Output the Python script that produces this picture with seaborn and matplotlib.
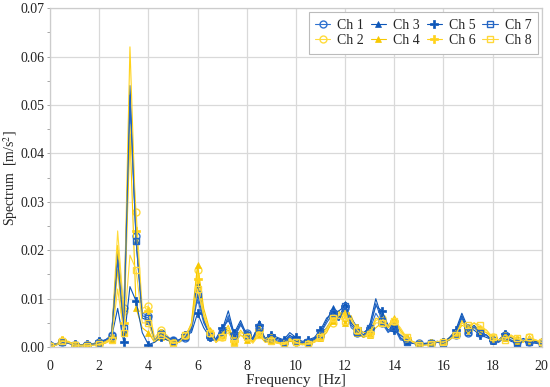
import matplotlib
matplotlib.use("Agg")
import matplotlib.pyplot as plt
import numpy as np
import seaborn as sns
from matplotlib.ticker import MultipleLocator, FormatStrFormatter

# frequency axis, 0.25 Hz steps
freq = np.arange(81) * 0.25

# spectra in units of 1e-3 m/s^2
ch1 = [0.4, 0.6, 1.0, 0.8, 0.5, 0.4, 0.5, 0.6, 1.0, 1.5, 2.5,
       19, 8, 50, 23, 7, 6.5, 1.5, 3.0, 2.0, 1.5,
       1.0, 1.8, 3.5, 10, 5, 2.5, 1.2, 3.0, 6.5, 2.0,
       4.5, 3.0, 1.5, 4.0, 1.5, 2.0, 1.2, 1.0, 2.0, 1.0,
       0.8, 1.0, 1.5, 2.5, 4.0, 6.0, 5.5, 8.0, 4.0, 3.0,
       2.0, 3.5, 7.0, 5.0, 3.0, 4.0, 1.5, 1.2, 1.0, 0.8,
       0.7, 0.8, 1.0, 0.8, 1.5, 2.5, 6.0, 3.0, 4.0, 3.0,
       2.5, 1.5, 1.2, 2.5, 1.5, 1.0, 1.5, 1.0, 1.0, 0.8]
ch2 = [0.2, 0.5, 1.3, 1.1, 0.4, 0.3, 0.4, 0.5, 0.7, 1.0, 1.8,
       24, 7.5, 46, 28, 8, 8.5, 2.0, 3.5, 2.5, 1.0,
       1.2, 2.5, 4.5, 16, 7, 3.0, 1.0, 2.0, 4.0, 1.5,
       3.0, 2.5, 1.0, 3.0, 2.0, 1.5, 1.0, 0.8, 1.5, 1.2,
       0.6, 0.8, 1.2, 2.0, 3.5, 5.0, 7.0, 6.0, 5.0, 3.5,
       2.5, 3.0, 5.5, 6.0, 4.0, 5.0, 3.0, 1.5, 1.2, 0.6,
       0.5, 0.7, 1.2, 1.0, 2.0, 3.0, 5.0, 4.0, 4.5, 3.5,
       3.0, 2.0, 1.5, 2.0, 2.5, 1.5, 1.2, 2.0, 1.5, 1.0]
ch3 = [0.3, 0.5, 1.1, 0.9, 0.4, 0.3, 0.4, 0.5, 0.8, 1.3, 2.2,
       20, 3.5, 54, 22, 6, 5.5, 1.2, 2.5, 2.0, 1.2,
       1.5, 2.0, 4.0, 13, 6, 2.0, 1.5, 3.5, 7.5, 2.5,
       5.0, 2.0, 1.8, 5.0, 1.2, 1.5, 1.8, 1.2, 2.5, 1.5,
       1.0, 1.2, 1.8, 3.0, 5.5, 8.0, 6.0, 9.0, 5.0, 3.5,
       2.5, 4.5, 10, 6.0, 3.5, 4.5, 2.0, 1.0, 0.8, 0.5,
       0.6, 0.7, 1.0, 0.9, 1.8, 3.0, 6.5, 3.5, 4.5, 3.0,
       2.5, 1.2, 1.0, 2.0, 1.2, 0.8, 1.2, 1.0, 0.8, 0.6]
ch4 = [0.2, 0.4, 1.0, 0.8, 0.3, 0.2, 0.3, 0.4, 0.5, 0.8, 1.5,
       16, 3.0, 44, 8, 4, 3.0, 1.0, 2.0, 1.5, 0.8,
       1.0, 2.0, 5.0, 17, 8, 3.5, 1.0, 2.5, 3.5, 1.0,
       2.5, 1.5, 1.2, 2.5, 1.0, 1.2, 0.8, 0.6, 1.2, 1.0,
       0.5, 0.6, 1.0, 1.8, 3.0, 5.5, 7.5, 5.0, 6.5, 3.0,
       2.0, 2.5, 4.0, 5.0, 4.5, 6.0, 3.5, 2.0, 1.0, 0.5,
       0.4, 0.6, 1.0, 0.8, 1.5, 2.5, 4.5, 4.0, 5.0, 4.0,
       3.5, 2.0, 1.5, 1.8, 2.0, 1.2, 1.0, 1.8, 1.2, 0.8]
ch5 = [0.5, 0.7, 1.2, 1.0, 0.6, 0.5, 0.6, 0.7, 1.2, 1.5, 2.0,
       8, 1.0, 12.5, 9.5, 3, 0.5, 1.0, 2.0, 1.5, 1.2,
       1.5, 2.5, 3.0, 7, 4, 2.0, 1.8, 4.0, 5.5, 3.0,
       5.5, 2.5, 2.0, 4.5, 1.8, 2.5, 2.0, 1.5, 3.0, 2.0,
       1.2, 1.5, 2.0, 3.5, 6.0, 7.0, 7.5, 8.5, 6.0, 4.0,
       3.0, 4.0, 8.5, 7.5, 4.5, 3.5, 2.5, 1.5, 0.8, 0.6,
       0.8, 0.9, 1.2, 1.0, 2.0, 3.5, 7.0, 4.0, 3.5, 2.5,
       2.0, 1.5, 1.5, 2.8, 2.0, 1.2, 1.8, 1.2, 1.2, 1.0]
ch6 = [0.3, 0.6, 1.4, 1.2, 0.5, 0.4, 0.5, 0.6, 0.8, 1.2, 2.0,
       21, 5.0, 62, 24, 7, 7.5, 1.5, 3.0, 2.0, 1.0,
       1.0, 2.2, 4.0, 14, 6, 3.0, 1.2, 2.5, 4.5, 1.2,
       3.5, 2.0, 1.2, 3.5, 1.5, 1.8, 1.0, 0.8, 1.8, 1.0,
       0.7, 0.9, 1.4, 2.2, 4.0, 6.0, 6.5, 7.0, 5.5, 4.0,
       3.0, 3.0, 6.0, 5.5, 4.0, 5.5, 3.5, 1.8, 1.2, 0.6,
       0.5, 0.8, 1.1, 0.9, 1.6, 2.8, 5.5, 3.5, 4.0, 3.5,
       3.0, 1.8, 1.5, 2.2, 2.2, 1.4, 1.3, 1.5, 1.4, 1.0]
ch7 = [0.3, 0.5, 1.0, 0.8, 0.4, 0.3, 0.4, 0.5, 0.9, 1.4, 2.3,
       18, 4.0, 52, 22, 6.5, 6.0, 1.3, 2.8, 2.2, 1.3,
       1.2, 2.0, 3.8, 11, 5.5, 2.2, 1.4, 3.2, 6.0, 2.2,
       4.8, 2.5, 1.6, 4.2, 1.4, 1.8, 1.5, 1.0, 2.2, 1.2,
       0.9, 1.1, 1.6, 2.8, 5.0, 7.0, 5.5, 8.5, 4.5, 3.2,
       2.2, 4.0, 9.0, 5.5, 3.2, 4.2, 1.8, 1.1, 0.9, 0.6,
       0.6, 0.8, 1.0, 0.8, 1.6, 2.8, 6.2, 3.2, 4.2, 3.0,
       2.4, 1.4, 1.1, 2.2, 1.4, 0.9, 1.3, 1.0, 0.9, 0.7]
ch8 = [0.2, 0.4, 1.2, 1.0, 0.4, 0.3, 0.3, 0.4, 0.6, 0.9, 1.5,
       12, 3.0, 19, 16, 5, 5.0, 1.2, 2.5, 1.8, 0.8,
       1.0, 2.5, 4.5, 12, 6.5, 3.0, 1.0, 2.0, 3.0, 0.8,
       2.5, 2.0, 0.8, 2.5, 1.5, 1.2, 0.8, 0.5, 1.5, 1.0,
       0.5, 0.7, 1.0, 2.0, 3.5, 6.0, 6.0, 5.5, 6.0, 3.5,
       2.2, 2.8, 5.0, 5.0, 4.5, 5.5, 4.0, 2.0, 1.0, 0.5,
       0.4, 0.6, 1.2, 1.0, 1.6, 2.6, 5.0, 4.5, 5.0, 4.5,
       3.5, 2.0, 1.5, 1.5, 2.5, 1.8, 1.2, 2.0, 1.5, 1.0]

channels = ["Ch 1", "Ch 2", "Ch 3", "Ch 4", "Ch 5", "Ch 6", "Ch 7", "Ch 8"]
series = [ch1, ch2, ch3, ch4, ch5, ch6, ch7, ch8]

colors = ["#2f72d0", "#ffdc3c", "#0d56b8", "#f7c800",
          "#0d56b8", "#ffd21a", "#2566c4", "#ffd83a"]
markers = ["o", "o", "^", "^", "P", "P", "s", "s"]
filled = [False, False, True, True, True, True, False, False]

sns.set_theme(style="whitegrid")
plt.rcParams["font.family"] = ["Liberation Serif", "DejaVu Serif"]
plt.rcParams["mathtext.fontset"] = "stix"

fig, ax = plt.subplots(figsize=(5.5, 3.87), dpi=100)
fig.subplots_adjust(left=0.091, right=0.985, top=0.979, bottom=0.103)

for name, vals, c, m, f in zip(channels, series, colors, markers, filled):
    sns.lineplot(
        x=freq,
        y=np.array(vals) / 1000,
        color=c,
        marker=m,
        markersize=5 if m != "P" else 6,
        markerfacecolor=c if f else "none",
        markeredgecolor=c,
        markeredgewidth=1.0 if not f else 0.5,
        markevery=2,
        linewidth=0.8,
        label=name,
        ax=ax,
    )

ax.set_xlim(0, 20)
ax.set_ylim(0, 0.07)
ax.xaxis.set_major_locator(MultipleLocator(2))
ax.yaxis.set_major_locator(MultipleLocator(0.01))
ax.yaxis.set_minor_locator(MultipleLocator(0.005))
ax.yaxis.set_major_formatter(FormatStrFormatter("%.2f"))
ax.tick_params(axis="both", labelsize=10, colors="#222222")
ax.tick_params(axis="x", pad=3)
ax.tick_params(axis="y", which="minor", left=True, length=2, width=0.6, color="#999999")
ax.tick_params(axis="y", which="major", left=True, length=2, width=0.6, color="#999999", pad=2)
ax.grid(True, which="major", color="#d9d9d9", linewidth=0.9)
for s in ax.spines.values():
    s.set_color("#cccccc")
    s.set_linewidth(0.9)

ax.set_xlabel("Frequency  [Hz]", fontsize=11, labelpad=1)
ax.set_ylabel("Spectrum  [m/s$^2$]", fontsize=10)
ax.yaxis.set_label_coords(-0.062, 0.5)

leg = ax.legend(loc="upper right", ncol=4, fontsize=10, frameon=True,
                fancybox=False, edgecolor="#bbbbbb", framealpha=1,
                handlelength=1.1, columnspacing=0.5, handletextpad=0.5,
                borderpad=0.45, labelspacing=0.2, borderaxespad=0.3)
leg.get_frame().set_linewidth(0.8)

plt.savefig("out.png", dpi=100)
plt.close()
